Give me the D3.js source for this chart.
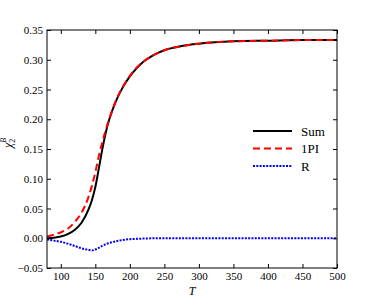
<!DOCTYPE html>
<html>
<head>
<meta charset="utf-8">
<script src="https://cdn.jsdelivr.net/npm/d3@7"></script>
<style>
  html, body { margin: 0; padding: 0; background: #fff; }
</style>
</head>
<body>
<div id="chart"></div>
<script>
// Data
const temps = [80, 90, 100, 110, 120, 130, 140, 145, 150, 155, 160, 165, 170, 180, 190, 200, 210, 220, 230, 240, 250, 275, 300, 350, 400, 450, 500]
const sumVals = [0.000, 0.001, 0.003, 0.007, 0.014, 0.026, 0.048, 0.064, 0.086, 0.117, 0.149, 0.177, 0.199, 0.231, 0.254, 0.272, 0.286, 0.297, 0.305, 0.311, 0.316, 0.323, 0.327, 0.331, 0.332, 0.333, 0.333]
const onePIVals = [0.003, 0.006, 0.010, 0.016, 0.027, 0.043, 0.069, 0.088, 0.111, 0.138, 0.161, 0.182, 0.200, 0.232, 0.255, 0.273, 0.287, 0.297, 0.305, 0.311, 0.316, 0.323, 0.327, 0.331, 0.332, 0.333, 0.333]
const rVals = [-0.002, -0.004, -0.006, -0.009, -0.013, -0.017, -0.0195, -0.0205, -0.019, -0.016, -0.013, -0.010, -0.008, -0.005, -0.003, -0.0015, -0.001, -0.0005, -0.0002, 0, 0, 0, 0, 0, 0, 0, 0]
const xTicks = [100, 150, 200, 250, 300, 350, 400, 450, 500]
const yTicks = [-0.05, 0.00, 0.05, 0.10, 0.15, 0.20, 0.25, 0.30, 0.35]
const seriesNames = ["Sum", "1PI", "R"]

const FONT = "'Liberation Serif', 'DejaVu Serif', 'Times New Roman', serif"
const CONFIG = {
  width: 374,
  height: 299,
  margin: { top: 30, right: 37, bottom: 31, left: 47 },
  tick: 4
}
const w = CONFIG.width - CONFIG.margin.left - CONFIG.margin.right
const h = CONFIG.height - CONFIG.margin.top - CONFIG.margin.bottom

const styles = [
  { color: "#000000", width: 2, dash: null },
  { color: "#ff0000", width: 2, dash: "7,4" },
  { color: "#0000ff", width: 2, dash: "2,1.3" }
]

const svg = d3.select("#chart").append("svg")
  .attr("width", CONFIG.width)
  .attr("height", CONFIG.height)
  .attr("font-family", FONT)

const g = svg.append("g")
  .attr("transform", `translate(${CONFIG.margin.left},${CONFIG.margin.top})`)

const x = d3.scaleLinear().domain([80, 500]).range([0, w])
const y = d3.scaleLinear().domain([-0.05, 0.35]).range([h, 0])

g.append("clipPath").attr("id", "clip")
  .append("rect").attr("width", w).attr("height", h)

// curves
const series = [sumVals, onePIVals, rVals]
const line = d3.line()
  .x((d, i) => x(temps[i]))
  .y(d => y(d))
  .curve(d3.curveMonotoneX)

series.forEach((vals, k) => {
  g.append("path")
    .attr("clip-path", "url(#clip)")
    .attr("d", line(vals))
    .attr("fill", "none")
    .attr("stroke", styles[k].color)
    .attr("stroke-width", styles[k].width)
    .attr("stroke-dasharray", styles[k].dash)
})

// axes, ticks inward on all sides
const fmt = v => (v < 0 ? "\u2212" : "") + Math.abs(v).toFixed(2)

const axes = [
  g.append("g").attr("transform", `translate(0,${h})`)
    .call(d3.axisBottom(x).tickValues(xTicks).tickSizeInner(-CONFIG.tick).tickSizeOuter(0).tickPadding(4)),
  g.append("g")
    .call(d3.axisTop(x).tickValues(xTicks).tickSizeInner(-CONFIG.tick).tickSizeOuter(0).tickFormat("")),
  g.append("g")
    .call(d3.axisLeft(y).tickValues(yTicks).tickSizeInner(-CONFIG.tick).tickSizeOuter(0).tickPadding(4).tickFormat(fmt)),
  g.append("g").attr("transform", `translate(${w},0)`)
    .call(d3.axisRight(y).tickValues(yTicks).tickSizeInner(-CONFIG.tick).tickSizeOuter(0).tickFormat(""))
]
axes.forEach(a => a.attr("font-family", FONT).attr("font-size", 11))

g.selectAll(".domain").remove()
g.selectAll(".tick line").attr("stroke", "#000").attr("stroke-width", 1)
g.selectAll(".tick text").attr("fill", "#000")

g.append("rect")
  .attr("width", w).attr("height", h)
  .attr("fill", "none").attr("stroke", "#000").attr("stroke-width", 1)

// axis labels
svg.append("text")
  .attr("x", CONFIG.margin.left + w / 2)
  .attr("y", 295)
  .attr("text-anchor", "middle")
  .attr("font-size", 12)
  .attr("font-style", "italic")
  .text("T")

const yl = svg.append("text")
  .attr("transform", `translate(12,${CONFIG.margin.top + h / 2 - 6}) rotate(-90)`)
  .attr("text-anchor", "middle")
  .attr("font-size", 12)
yl.append("tspan").attr("font-style", "italic").text("\u03c7")
yl.append("tspan").attr("dy", 3).attr("font-size", 8).text("2")
yl.append("tspan").attr("dx", -4).attr("dy", -9).attr("font-size", 8).attr("font-style", "italic").text("B")

// legend
const legend = g.append("g").attr("transform", `translate(206,101)`)
seriesNames.forEach((name, k) => {
  const row = legend.append("g").attr("transform", `translate(0,${k * 17.5})`)
  row.append("line")
    .attr("x1", 0).attr("x2", 39)
    .attr("stroke", styles[k].color)
    .attr("stroke-width", styles[k].width)
    .attr("stroke-dasharray", styles[k].dash)
  row.append("text")
    .attr("x", 48).attr("dy", "0.35em")
    .attr("font-size", 13)
    .text(name)
})
</script>
</body>
</html>
